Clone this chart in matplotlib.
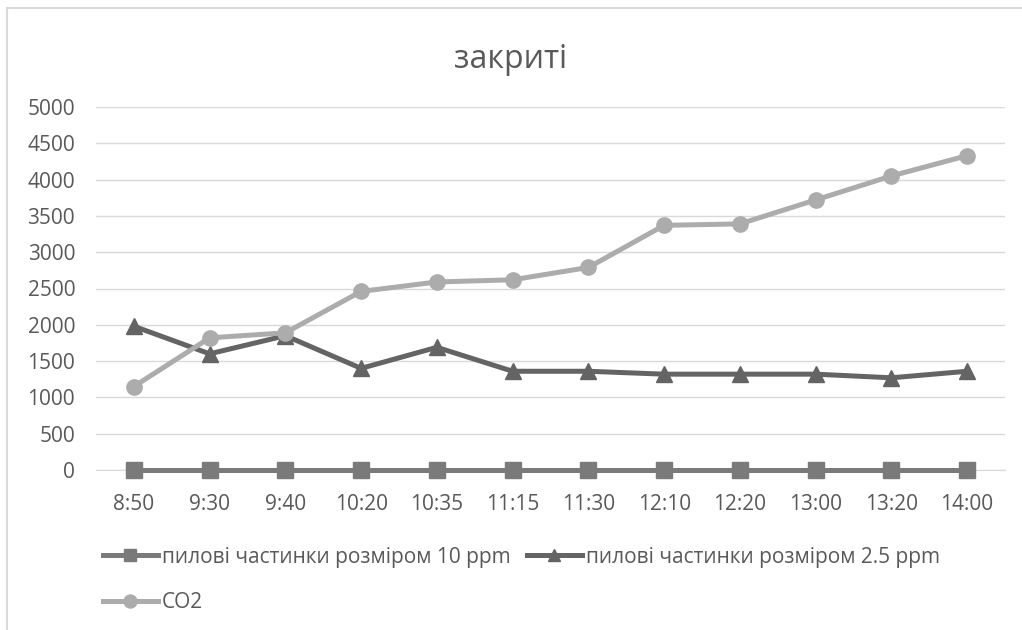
import matplotlib
matplotlib.use("Agg")
import matplotlib.pyplot as plt
from matplotlib.patches import Rectangle

# times of measurement
times = ["8:50", "9:30", "9:40", "10:20", "10:35", "11:15",
         "11:30", "12:10", "12:20", "13:00", "13:20", "14:00"]
pm10 = [0, 0, 0, 0, 0, 0, 0, 0, 0, 0, 0, 0]
pm25 = [1980, 1600, 1850, 1400, 1690, 1360, 1360, 1320, 1320, 1320, 1270, 1360]
co2 = [1150, 1820, 1890, 2460, 2590, 2620, 2790, 3370, 3390, 3720, 4050, 4330]
yticks = [0, 500, 1000, 1500, 2000, 2500, 3000, 3500, 4000, 4500, 5000]

plt.rcParams['font.family'] = ['Open Sans', 'DejaVu Sans']

fig = plt.figure(figsize=(10.22, 6.30), dpi=100)
# chart border (as in the Excel export)
fig.patches.append(Rectangle((7 / 1022, -0.1), 1.2, 1.1 - 8 / 630, transform=fig.transFigure,
                             fill=False, edgecolor="#d9d9d9", linewidth=1.5))

ax = fig.add_axes([96 / 1022, 1 - 470 / 630, 909 / 1022, 363 / 630])
x = range(len(times))
l1, = ax.plot(x, pm10, color="#7a7a7a", lw=3.6, marker="s", ms=11, label="пилові частинки розміром 10 ppm")
l2, = ax.plot(x, pm25, color="#646464", lw=3.6, marker="^", ms=11, label="пилові частинки розміром 2.5 ppm")
l3, = ax.plot(x, co2, color="#acacac", lw=3.6, marker="o", ms=11, label="CO2")
for l in (l1, l2, l3):
    l.set_clip_on(False)
l1.set_zorder(3)

ax.set_xlim(-0.5, len(times) - 0.5)
ax.set_ylim(0, 5000)
ax.set_yticks(yticks)
ax.set_xticks(list(x))
ax.set_xticklabels(times)
ax.grid(axis="y", color="#d9d9d9", lw=1)
ax.set_axisbelow(True)
for s in ["top", "right", "left"]:
    ax.spines[s].set_visible(False)
ax.spines["bottom"].set_color("#d9d9d9")
ax.tick_params(length=0, labelsize=15, colors="#595959")
ax.tick_params(axis="y", pad=15)
ax.tick_params(axis="x", pad=17)

fig.text(0.5, 1 - 59 / 630, "закриті", ha="center", va="center", fontsize=23, color="#595959")

fig.legend(handles=[l1, l3, l2], ncol=2, loc="upper left", bbox_to_anchor=(84 / 1022, 1 - 528 / 630),
           frameon=False, fontsize=15, labelcolor="#595959", handlelength=2.64, handletextpad=0.2,
           columnspacing=0.77, labelspacing=1.16, markerscale=0.85)

fig.savefig("out.png", dpi=100, facecolor="white")
